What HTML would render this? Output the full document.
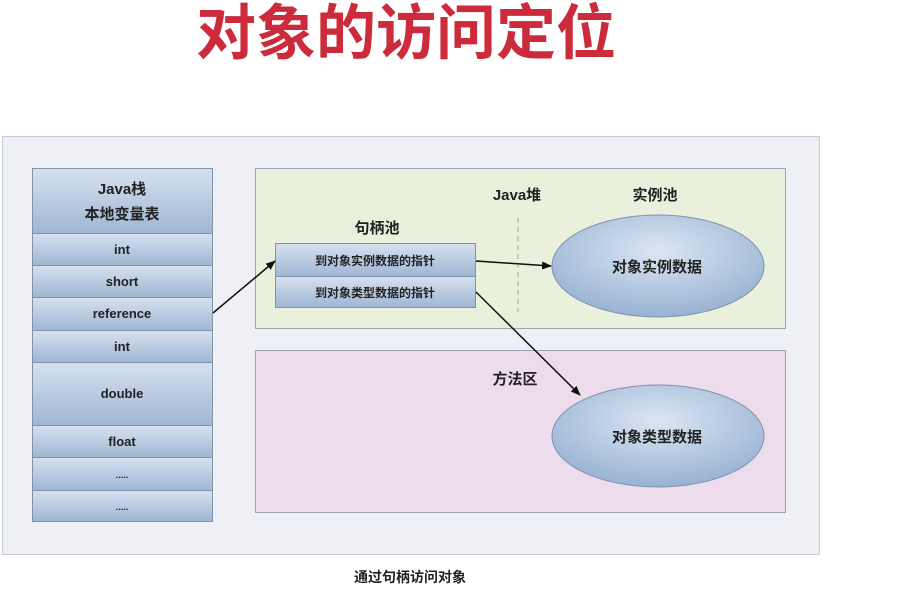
<!DOCTYPE html>
<html><head><meta charset="utf-8"><style>
body{margin:0;width:922px;height:600px;background:#fff;overflow:hidden;font-family:"Liberation Sans","Noto Sans CJK SC",sans-serif;}
</style></head><body>
<svg width="922" height="600" xmlns="http://www.w3.org/2000/svg" style="position:absolute;left:0;top:0">
<defs>
<linearGradient id="cell" x1="0" y1="0" x2="0" y2="1"><stop offset="0" stop-color="#d6e1ef"/><stop offset="1" stop-color="#9fb6d3"/></linearGradient>
<radialGradient id="ell" cx="0.5" cy="0.35" r="0.7"><stop offset="0" stop-color="#dbe6f3"/><stop offset="1" stop-color="#93aed0"/></radialGradient>
<marker id="ar" markerWidth="10" markerHeight="8" refX="9" refY="4" orient="auto" markerUnits="userSpaceOnUse"><path d="M0,0 L10,4 L0,8 z" fill="#111"/></marker>
</defs>
<text x="406" y="54" font-size="60" font-weight="bold" fill="#cc2b3b" text-anchor="middle" font-family="Liberation Sans,Noto Sans CJK SC,sans-serif">对象的访问定位</text>
<rect x="2.5" y="136.5" width="817" height="418" fill="#eef0f5" stroke="#c5cad3"/>
<g stroke="#7f93ad" stroke-width="1" fill="url(#cell)">
<rect x="32.5" y="168.5" width="180" height="65"/>
<rect x="32.5" y="233.5" width="180" height="32"/>
<rect x="32.5" y="265.5" width="180" height="32"/>
<rect x="32.5" y="297.5" width="180" height="33"/>
<rect x="32.5" y="330.5" width="180" height="32"/>
<rect x="32.5" y="362.5" width="180" height="63"/>
<rect x="32.5" y="425.5" width="180" height="32"/>
<rect x="32.5" y="457.5" width="180" height="33"/>
<rect x="32.5" y="490.5" width="180" height="31"/>
</g>
<g font-weight="bold" fill="#222" text-anchor="middle" font-size="13">
<text x="122" y="194" font-size="15">Java栈</text>
<text x="122" y="219" font-size="15">本地变量表</text>
<text x="122" y="254">int</text>
<text x="122" y="286">short</text>
<text x="122" y="318">reference</text>
<text x="122" y="351">int</text>
<text x="122" y="398">double</text>
<text x="122" y="446">float</text>
<text x="122" y="478" font-size="9">.....</text>
<text x="122" y="510" font-size="9">.....</text>
</g>
<rect x="255.5" y="168.5" width="530" height="160" fill="#e9f0dc" stroke="#9aa6b3"/>
<rect x="255.5" y="350.5" width="530" height="162" fill="#ecdcec" stroke="#9aa6b3"/>
<line x1="518" y1="218" x2="518" y2="312" stroke="#9aa" stroke-dasharray="5,4"/>
<g stroke="#7f93ad" fill="url(#cell)">
<rect x="275.5" y="243.5" width="200" height="33"/>
<rect x="275.5" y="276.5" width="200" height="31"/>
</g>
<ellipse cx="658" cy="266" rx="106" ry="51" fill="url(#ell)" stroke="#7f93ad"/>
<ellipse cx="658" cy="436" rx="106" ry="51" fill="url(#ell)" stroke="#7f93ad"/>
<g font-weight="bold" fill="#222" text-anchor="middle">
<text x="517" y="200" font-size="15">Java堆</text>
<text x="655" y="200" font-size="15">实例池</text>
<text x="377" y="233" font-size="15">句柄池</text>
<text x="515" y="384" font-size="15">方法区</text>
<text x="375" y="265" font-size="12">到对象实例数据的指针</text>
<text x="375" y="297" font-size="12">到对象类型数据的指针</text>
<text x="657" y="272" font-size="15">对象实例数据</text>
<text x="657" y="442" font-size="15">对象类型数据</text>
<text x="410" y="582" font-size="14">通过句柄访问对象</text>
</g>
<g stroke="#111" stroke-width="1.5" fill="none" marker-end="url(#ar)">
<line x1="213" y1="313" x2="275" y2="261"/>
<line x1="476" y1="261" x2="551" y2="266"/>
<line x1="476" y1="292" x2="580" y2="395"/>
</g>
</svg>
</body></html>
